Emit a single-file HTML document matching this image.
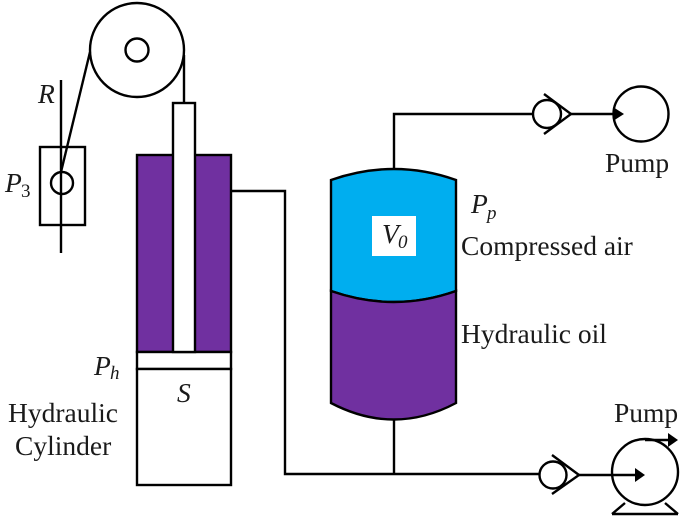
<!DOCTYPE html>
<html><head><meta charset="utf-8"><style>
html,body{margin:0;padding:0;background:#fff}
svg{display:block}
text{font-family:"Liberation Serif",serif;fill:#1a1a1a}
.i{font-style:italic}
</style></head><body>
<svg width="685" height="518" viewBox="0 0 685 518" xmlns="http://www.w3.org/2000/svg">
<g fill="none" stroke="#000" stroke-width="2.4">
<!-- pulley -->
<circle cx="137" cy="50" r="47"/>
<circle cx="137" cy="50" r="11.5"/>
<path d="M90 52L61 172"/>
<path d="M184 55V103"/>
<!-- sensor -->
<rect x="40" y="147" width="45" height="78"/>
<circle cx="62" cy="183" r="11"/>
<path d="M61 80V253"/>
<!-- cylinder -->
<rect x="137" y="155" width="94" height="197" fill="#7030a0"/>
<rect x="137" y="352" width="94" height="17" fill="#fff"/>
<rect x="137" y="369" width="94" height="116" fill="#fff"/>
<rect x="173" y="103" width="22" height="249" fill="#fff"/>
<!-- pipes -->
<path d="M231 191H285V474H540"/>
<path d="M394 420V474"/>
<path d="M394 170V114H533"/>
<!-- accumulator -->
<path d="M331 180Q394 158 456 180V291Q394 313 331 291Z" fill="#00aeef"/>
<path d="M331 291Q394 313 456 291V403Q394 436 331 403Z" fill="#7030a0"/>
<!-- upper valve + pump -->
<circle cx="547" cy="114" r="14"/>
<path d="M544 94L571 114L544 134"/>
<path d="M571 114H615"/>
<circle cx="641" cy="114" r="27.5"/>
<!-- lower valve + pump -->
<circle cx="553" cy="475" r="13.5"/>
<path d="M552 455L579 475L552 494"/>
<path d="M579 475H640"/>
<circle cx="645" cy="472" r="33"/>
<path d="M645 440H672"/>
<path d="M612 514H678M612 514L625 503M678 514L665 503"/>
</g>
<path d="M613 107L624 114L613 121Z" fill="#000"/>
<path d="M635 468L645 475L635 482Z" fill="#000"/>
<path d="M668 433L678 440L668 447Z" fill="#000"/>
<rect x="372" y="216" width="44" height="40" fill="#fff"/>
<text class="i" x="38" y="103" font-size="27.5">R</text>
<text class="i" x="5" y="192" font-size="27.5">P</text>
<text x="21" y="197" font-size="19">3</text>
<text class="i" x="94" y="375" font-size="27.5">P</text>
<text class="i" x="110" y="379" font-size="19">h</text>
<text class="i" x="177" y="402" font-size="27.5">S</text>
<text x="8" y="422" font-size="27.5">Hydraulic</text>
<text x="15" y="455" font-size="27.5">Cylinder</text>
<text class="i" x="382" y="243" font-size="27.5">V</text>
<text class="i" x="398" y="248" font-size="19">0</text>
<text class="i" x="471" y="213" font-size="27.5">P</text>
<text class="i" x="487" y="219" font-size="19">p</text>
<text x="461" y="255" font-size="27.5">Compressed air</text>
<text x="461" y="343" font-size="27.5">Hydraulic oil</text>
<text x="605" y="172" font-size="27.5">Pump</text>
<text x="614" y="422" font-size="27.5">Pump</text>
</svg>
</body></html>
